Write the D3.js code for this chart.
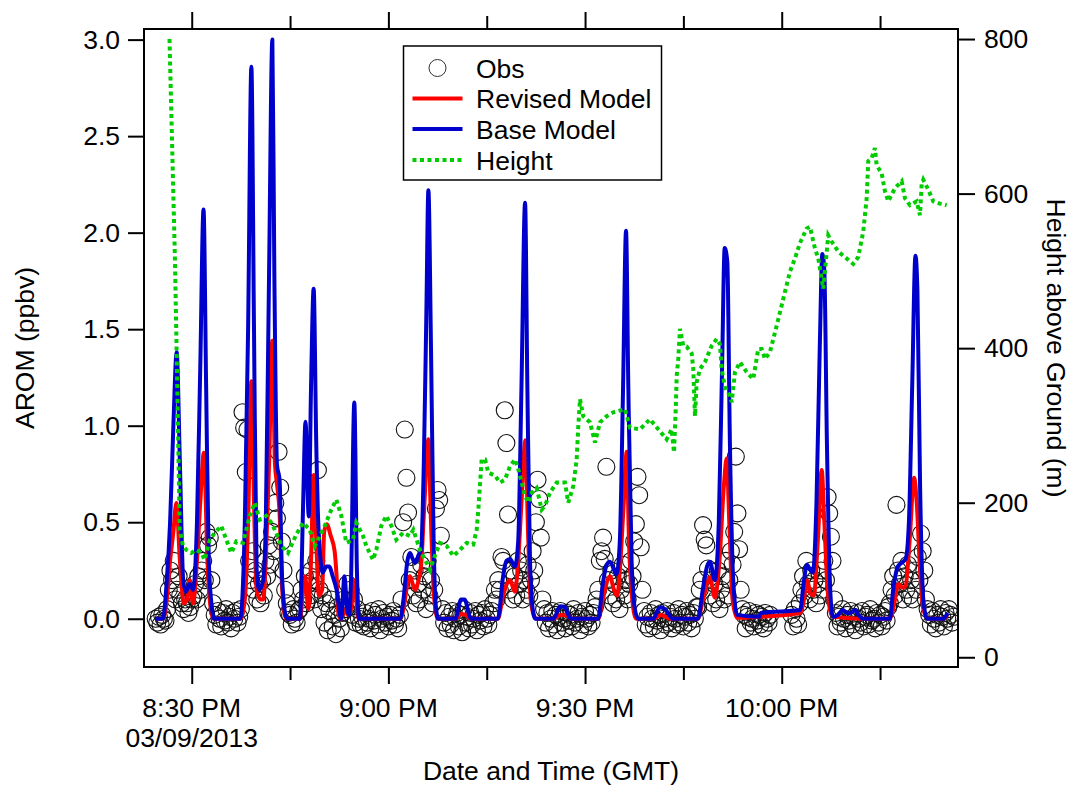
<!DOCTYPE html>
<html>
<head>
<meta charset="utf-8">
<script src="https://cdn.jsdelivr.net/npm/d3@7"></script>
<style>
  body { margin: 0; background: #fff; }
  svg text { font-family: "Liberation Sans", Arial, sans-serif; fill: #000; }
</style>
</head>
<body>
<svg id="chart" width="1071" height="788"></svg>
<script>
// time is in minutes after 8:00 PM, 03/09/2013
const aromTicks = [0, 0.5, 1.0, 1.5, 2.0, 2.5, 3.0];
const heightTicks = [0, 200, 400, 600, 800];
const majorTicks = [30, 60, 90, 120];
const minorTicks = [45, 75, 105, 135];
const majorLabels = ["8:30 PM", "9:00 PM", "9:30 PM", "10:00 PM"];
const legendLabels = ["Obs", "Revised Model", "Base Model", "Height"];

const baseModel = [
    [24.4,0],[25.6,0],[26.2,0.2],[26.7,0.5],[27.2,1.0],[27.7,1.38],[28.2,0.8],[28.7,0.2],[29.1,0.14],[29.7,0.18],[30.2,0.15],[30.8,0.5],[31.3,1.3],[31.8,2.12],[32.2,1.2],[32.6,0.3],[33.1,0.05],[33.4,0],
    [37.4,0],[38.1,0.5],[38.6,1.5],[39.1,2.86],[39.5,1.5],[39.9,0.25],[40.3,0.15],[40.9,0.2],[41.3,0.5],[41.8,1.8],[42.3,3.0],[42.6,1.8],[43.0,0.8],[43.4,0.72],[43.8,0.2],[44.5,0],
    [46.5,0],[47.0,0.6],[47.35,1.02],[47.85,0.53],[48.2,1.2],[48.6,1.71],[49.0,0.9],[49.3,0.5],[50.0,0.24],[50.5,0.27],[51.0,0.27],[51.5,0.22],[52.1,0.15],[52.8,0],[53.3,0.22],[53.7,0.05],[54.0,0.02],[54.3,0.2],[54.8,1.12],[55.2,0.25],[55.5,0],
    [61.8,0],[62.3,0.1],[62.9,0.3],[63.3,0.34],[63.7,0.31],[64.1,0.29],[64.6,0.33],[65.0,0.36],[65.4,0.8],[65.8,1.6],[66.1,2.22],[66.5,1.4],[66.9,0.4],[67.2,0.08],[67.6,0],
    [70.2,0],[71.1,0.1],[71.6,0.1],[72.6,0],
    [76.7,0],[77.5,0.22],[78.0,0.3],[78.55,0.31],[79.3,0.27],[79.8,0.4],[80.3,1.2],[80.85,2.155],[81.2,1.2],[81.6,0.3],[82.1,0.03],[82.4,0],
    [85.2,0],[86.2,0.065],[86.9,0.06],[87.8,0],
    [92.0,0],[92.7,0.18],[93.3,0.28],[93.8,0.295],[94.8,0.23],[95.3,0.4],[95.8,1.2],[96.25,2.01],[96.6,1.2],[97.1,0.3],[97.6,0.05],[98.1,0],
    [100.4,0],[101.4,0.06],[102.2,0.05],[103.4,0],
    [107.2,0],[108.0,0.16],[108.6,0.27],[109.05,0.295],[109.8,0.2],[110.4,0.5],[110.9,1.3],[111.3,1.92],[111.7,1.85],[112.1,0.9],[112.6,0.2],[113.2,0.02],[116.6,0.01],[116.8,0.03],[122.8,0.045],
    [123.4,0.2],[123.85,0.28],[124.4,0.25],[124.76,0.24],[125.3,0.6],[125.8,1.4],[126.2,1.89],[126.5,1.8],[126.9,0.9],[127.4,0.15],[127.8,0.01],[128.6,0.02],[129.3,0.045],[130.0,0.03],[130.4,0.03],[131.2,0.045],[131.7,0.02],[132.4,0],
    [136.5,0],[137.0,0.15],[137.7,0.27],[138.3,0.29],[138.9,0.31],[139.4,0.5],[139.9,1.2],[140.4,1.88],[140.7,1.7],[141.1,0.7],[141.6,0.1],[142.2,0],[144.6,0],[145.3,0.03]
];

const revisedModel = [
    [24.4,0],[25.6,0],[26.2,0.1],[26.7,0.3],[27.2,0.45],[27.65,0.6],[28.2,0.3],[28.8,0.08],[29.3,0.1],[29.7,0.2],[30.2,0.08],[30.8,0.3],[31.3,0.6],[31.85,0.86],[32.4,0.3],[33.0,0.03],[33.4,0],
    [37.4,0],[38.1,0.1],[38.6,0.5],[39.1,1.23],[39.5,0.6],[39.9,0.15],[40.5,0.1],[40.9,0.1],[41.3,0.3],[41.8,0.8],[42.3,1.44],[42.7,0.8],[43.0,0.7],[43.4,0.55],[43.8,0.15],[44.4,0],
    [46.5,0],[47.0,0.15],[47.3,0.22],[47.8,0.05],[48.2,0.3],[48.6,0.745],[49.0,0.4],[49.4,0.12],[49.9,0.15],[50.2,0.45],[50.6,0.49],[51.2,0.43],[51.8,0.35],[52.1,0.22],[52.4,0.02],[52.8,0],[53.4,0.05],[53.8,0.02],[54.3,0.05],[54.8,0.2],[55.3,0.02],[55.5,0],
    [61.8,0],[62.3,0.05],[62.9,0.18],[63.3,0.22],[63.7,0.18],[64.1,0.15],[64.6,0.2],[65.0,0.28],[65.5,0.6],[66.1,0.93],[66.5,0.5],[66.9,0.15],[67.4,0.01],[67.6,0],
    [70.2,0],[71.1,0.025],[71.8,0.02],[72.6,0],
    [76.7,0],[77.5,0.12],[78.55,0.2],[79.3,0.14],[79.8,0.3],[80.3,0.6],[80.9,0.925],[81.3,0.45],[81.7,0.1],[82.3,0.01],[82.6,0],
    [85.2,0],[86.3,0.02],[87.5,0.015],[87.8,0],
    [92.0,0],[92.7,0.1],[93.8,0.22],[94.4,0.15],[94.9,0.12],[95.4,0.3],[95.9,0.6],[96.35,0.865],[96.7,0.4],[97.2,0.1],[97.8,0],
    [100.4,0],[101.6,0.02],[103.0,0],
    [107.2,0],[108.0,0.1],[109.05,0.215],[109.8,0.11],[110.5,0.3],[111.2,0.7],[111.6,0.83],[112.0,0.5],[112.5,0.1],[113.2,0.005],[116.6,0.01],[122.8,0.03],
    [123.4,0.1],[123.85,0.2],[124.4,0.13],[124.9,0.12],[125.5,0.4],[126.1,0.77],[126.5,0.5],[127.0,0.15],[127.6,0.02],[128.0,0.01],[132.4,0],
    [136.5,0],[137.0,0.05],[137.8,0.18],[138.5,0.16],[138.9,0.17],[139.5,0.4],[140.2,0.73],[140.6,0.6],[141.1,0.25],[141.6,0.05],[142.3,0],[144.6,0],[145.3,0.02]
];

const heightAGL = [
    [26.61,800],[27.45,512],[27.83,334],[28.17,165],[28.67,144],[29.18,139],[29.94,135],[30.70,139],[31.46,135],[31.98,126],[32.75,152],[33.51,161],
    [34.51,170],[35.28,152],[36.04,135],[36.80,150],[37.82,148],[38.85,183],[39.61,200],[40.37,178],[41.38,183],[42.14,174],[42.90,161],[43.67,144],
    [44.69,135],[45.95,159],[46.98,174],[48.00,165],[48.76,144],[49.26,152],[50.29,170],[51.29,191],[52.06,204],[52.82,183],[53.58,148],[54.60,152],
    [55.11,174],[56.13,157],[56.63,144],[57.65,126],[58.16,139],[58.92,170],[59.68,183],[60.45,170],[61.21,152],[62.23,161],[63.25,157],[63.80,165],
    [64.82,139],[65.59,126],[66.35,113],[66.85,126],[67.87,148],[68.90,144],[69.90,131],[70.92,139],[71.95,148],[72.95,146],[73.47,165],[73.72,191],
    [74.23,256],[74.74,256],[75.24,239],[76.26,235],[77.03,226],[77.79,230],[78.55,247],[79.31,256],[79.82,243],[80.33,226],[80.84,209],[81.34,200],
    [81.86,213],[82.62,219],[83.39,191],[83.89,196],[84.65,213],[85.67,226],[86.94,226],[87.44,200],[88.21,222],[88.72,256],[88.97,299],[89.23,334],
    [89.73,312],[90.75,304],[91.52,278],[92.28,304],[93.30,312],[94.31,317],[96.09,321],[96.85,297],[98.38,295],[99.90,308],[101.17,295],[102.45,282],
    [103.21,295],[103.57,265],[103.83,321],[103.98,364],[104.22,386],[104.48,425],[104.98,403],[105.50,402],[106.27,393],[106.51,373],[106.77,312],
    [107.03,356],[107.53,373],[108.29,382],[109.32,403],[110.08,412],[110.58,405],[110.84,373],[111.34,349],[112.11,338],[112.37,330],[112.87,369],
    [113.63,382],[114.65,369],[115.66,360],[116.42,399],[116.94,399],[117.45,386],[118.21,395],[119.23,429],[120.24,464],[121.26,499],[122.02,516],
    [122.78,536],[123.81,555],[124.31,557],[125.07,529],[125.58,516],[126.34,477],[127.10,546],[127.62,538],[128.63,525],[129.91,516],[130.91,509],
    [131.68,518],[132.44,551],[132.96,594],[133.20,642],[133.72,646],[134.22,659],[134.48,637],[135.25,626],[135.75,603],[136.25,590],[137.27,607],
    [138.30,616],[138.80,594],[139.56,585],[140.58,590],[141.09,572],[141.35,612],[141.59,618],[142.35,605],[143.12,590],[144.14,587],[145.16,585]
];

// observations: each run = [start minute, values every 15 s]
const obsStep = 0.25;
const obsRuns = [
    [24.5, [0.0,-0.02,0.01,-0.03,0.02,0.0,-0.01,0.05]],
    [26.5, [0.15,0.25,0.2,0.3,0.1,0.15,0.22,0.12,0.08]],
    [28.75, [0.05,0.1,0.08,0.03,0.06,0.1]],
    [30.25, [0.12,0.18,0.1,0.22,0.15,0.25,0.3,0.2,0.45,0.38,0.42,0.2,0.08]],
    [33.5, [0.02,-0.03,0.04,0.0,-0.04,0.03,-0.01,0.05,-0.02,0.01,-0.05,0.03,0.0,0.04,-0.02,0.01]],
    [37.5, [0.05,1.07,0.99,0.76,0.98,0.3,0.2,0.35,0.15,0.25,0.1,0.18,0.08,0.2,0.12,0.3,0.22,0.38,0.28,0.45,0.35,0.6,0.52,0.865,0.68,0.4,0.25,0.15,0.08,0.03]],
    [45.0, [0.02,-0.03,0.05,0.0,-0.02,0.04]],
    [46.5, [0.05,0.15,0.1,0.22,0.08,0.18,0.12,0.25,0.2,0.1,0.3,0.77,0.15,0.05,0.12,-0.02,0.08,-0.06,0.04,0.1,-0.04,0.02,-0.08,0.06,0.0,-0.05]],
    [53.0, [0.03,0.1,0.05,0.18,0.08,0.15,0.02,0.1,-0.02,0.05,0.0,-0.03]],
    [56.0, [0.01,-0.04,0.03,-0.02,0.0,-0.05,0.04,-0.01,0.02,-0.03,0.05,-0.06,0.0,0.03,-0.02,0.01,-0.04,0.02,-0.01,0.04,-0.03,0.0,-0.05]],
    [61.75, [0.02,0.1,0.5,0.98,0.73,0.55,0.2,0.32,0.12,0.25,0.08,0.18,0.1,0.28,0.15,0.22,0.05,0.3,0.12,0.2,0.08,0.15,0.57,0.667,0.615,0.43]],
    [68.25, [0.05,-0.02,0.03,-0.05,0.01,-0.03,0.04,-0.06,0.0,0.03,-0.04,0.02,-0.07,0.05,-0.02,0.01,-0.05,0.03,-0.03,0.0,0.04,-0.06,0.02,-0.01,0.03,-0.04,0.05,0.0,-0.03,0.02,0.04,0.08,0.15,0.1]],
    [76.75, [0.2,0.15,0.32,0.3,1.08,0.91,0.54,0.15,0.25,0.1,0.22,0.12,0.3,0.18,0.25,0.1,0.2,0.15,0.28,0.12,0.2,0.35,0.25,0.5,0.72,0.62,0.42,0.1]],
    [83.75, [0.05,-0.02,0.03,-0.05,0.0,0.04,-0.03,0.02,-0.06,0.01,0.04,-0.02,0.0,-0.05,0.03,-0.01,0.02,-0.04,0.05,-0.02,0.0,0.03,-0.06,0.01,-0.03,0.04,0.0,-0.04,0.02,-0.02,0.03,0.06,0.1]],
    [92.0, [0.15,0.3,0.35,0.42,0.31,0.787,0.2,0.12,0.25,0.08,0.18,0.1,0.22,0.05,0.15,0.28,0.12,0.2,0.1,0.18,0.3,0.22,0.4,0.49,0.735,0.64,0.37,0.15]],
    [99.0, [0.04,-0.03,0.01,-0.05,0.03,0.0,-0.04,0.05,-0.01,0.02,-0.06,0.03,0.0,-0.03,0.04,-0.02,0.01,-0.05,0.03,0.0,-0.03,0.05,-0.02,0.02,-0.04,0.01,0.04,-0.02,0.02,-0.05,0.03,0.0,0.06]],
    [107.25, [0.06,0.15,0.2,0.485,0.41,0.38,0.26,0.12,0.2,0.08,0.18,0.1,0.25,0.05,0.15,0.22,0.1,0.3,0.12,0.2,0.35,0.28,0.45,0.84,0.546,0.36,0.15,0.05]],
    [114.25, [0.02,-0.05,0.01,0.04,-0.02,0.0,-0.04,0.03,-0.01,0.02,-0.03,0.01,-0.05,0.03,0.0,-0.02,0.02]],
    [121.5, [0.02,-0.04,0.05,0.0,-0.03,0.08,0.15,0.22,0.12,0.3,0.18,0.1,0.25,0.15,0.2,0.08,0.18,0.12,0.25,0.15,0.3,0.2,0.63,0.546,0.425,0.3,0.1]],
    [128.25, [0.03,-0.04,0.01,-0.02,0.05,0.0,-0.05,0.02,-0.01,0.04,-0.03,0.01,-0.06,0.03,0.0,-0.02,0.04,-0.04,0.01,0.02,-0.03,0.05,-0.01,0.0,-0.05,0.03,-0.02,0.02,-0.04,0.01,0.04,-0.01,0.06]],
    [136.5, [0.08,0.15,0.22,0.12,0.59,0.25,0.18,0.3,0.1,0.22,0.15,0.28,0.12,0.2,0.1,0.25,0.15,0.32,0.2,0.44,0.35,0.25,0.1,0.05,0.02]],
    [142.75, [-0.03,0.04,0.0,-0.05,0.02,-0.02,0.05,0.01,-0.04,0.03,0.0,0.05,0.02,-0.02,0.01]]
];

const obs = obsRuns.flatMap(([start, vals]) => vals.map((v, i) => [start + i * obsStep, v]));

const svg = d3.select("#chart");
const plot = { left: 144, right: 958, top: 29, bottom: 667 };
const fontSize = 26.5;

const t0 = new Date(2013, 2, 9, 20, 0, 0);
const toDate = (m) => new Date(t0.getTime() + m * 60000);

const x = d3.scaleTime().domain([toDate(22.72), toDate(146.89)]).range([plot.left, plot.right]);
const yL = d3.scaleLinear().domain([-0.25, 3.055]).range([plot.bottom, plot.top]);
const yR = d3.scaleLinear().domain([-12.6, 813]).range([plot.bottom, plot.top]);

svg.append("defs").append("clipPath").attr("id", "clip")
    .append("rect")
    .attr("x", plot.left).attr("y", plot.top)
    .attr("width", plot.right - plot.left).attr("height", plot.bottom - plot.top);

const g = svg.append("g").attr("clip-path", "url(#clip)");

// obs circles
g.append("g")
    .selectAll("circle")
    .data(obs)
    .enter()
    .append("circle")
    .attr("cx", (d) => x(toDate(d[0])))
    .attr("cy", (d) => yL(d[1]))
    .attr("r", 8.5)
    .style("fill", "none")
    .style("stroke", "#111")
    .style("stroke-width", 1.1);

const lineL = d3.line()
    .x((d) => x(toDate(d[0])))
    .y((d) => yL(d[1]))
    .curve(d3.curveMonotoneX);

g.append("path").datum(revisedModel)
    .attr("d", lineL)
    .style("fill", "none").style("stroke", "#ff0000").style("stroke-width", 4)
    .style("stroke-linejoin", "round");

g.append("path").datum(baseModel)
    .attr("d", lineL)
    .style("fill", "none").style("stroke", "#0000cc").style("stroke-width", 4)
    .style("stroke-linejoin", "round");

const lineR = d3.line()
    .x((d) => x(toDate(d[0])))
    .y((d) => yR(d[1]));

g.append("path").datum(heightAGL)
    .attr("d", lineR)
    .style("fill", "none").style("stroke", "#00cc00").style("stroke-width", 4)
    .style("stroke-dasharray", "4,3.5");

// frame
svg.append("rect")
    .attr("x", plot.left).attr("y", plot.top)
    .attr("width", plot.right - plot.left).attr("height", plot.bottom - plot.top)
    .style("fill", "none").style("stroke", "#000").style("stroke-width", 2);

function styleAxis(sel) {
    sel.select(".domain").remove();
    sel.selectAll("line").style("stroke", "#000").style("stroke-width", 2);
    sel.selectAll("text").style("font-size", fontSize + "px").style("font-family", '"Liberation Sans", Arial, sans-serif');
}

svg.append("g").attr("transform", `translate(${plot.left},0)`)
    .call(d3.axisLeft(yL).tickValues(aromTicks).tickSize(16).tickPadding(8).tickFormat(d3.format(".1f")))
    .call(styleAxis);

svg.append("g").attr("transform", `translate(${plot.right},0)`)
    .call(d3.axisRight(yR).tickValues(heightTicks).tickSize(17).tickPadding(9))
    .call(styleAxis);

const majorDates = majorTicks.map(toDate);
const minorDates = minorTicks.map(toDate);

svg.append("g").attr("transform", `translate(0,${plot.bottom})`)
    .call(d3.axisBottom(x).tickValues(majorDates).tickSize(17).tickFormat(""))
    .call(styleAxis);
svg.append("g").attr("transform", `translate(0,${plot.bottom})`)
    .call(d3.axisBottom(x).tickValues(minorDates).tickSize(13).tickFormat(""))
    .call(styleAxis);
svg.append("g").attr("transform", `translate(0,${plot.top})`)
    .call(d3.axisTop(x).tickValues(majorDates).tickSize(17).tickFormat(""))
    .call(styleAxis);
svg.append("g").attr("transform", `translate(0,${plot.top})`)
    .call(d3.axisTop(x).tickValues(minorDates).tickSize(13).tickFormat(""))
    .call(styleAxis);

// time labels
svg.append("g")
    .selectAll("text")
    .data(majorDates)
    .enter()
    .append("text")
    .attr("x", (d) => x(d))
    .attr("y", 717)
    .attr("text-anchor", "middle")
    .style("font-size", fontSize + "px")
    .text((d, i) => majorLabels[i]);

svg.append("text")
    .attr("x", x(majorDates[0]))
    .attr("y", 747)
    .attr("text-anchor", "middle")
    .style("font-size", fontSize + "px")
    .text("03/09/2013");

// axis titles
svg.append("text")
    .attr("x", (plot.left + plot.right) / 2)
    .attr("y", 780)
    .attr("text-anchor", "middle")
    .style("font-size", fontSize + "px")
    .text("Date and Time (GMT)");

svg.append("text")
    .attr("transform", `translate(34,${(plot.top + plot.bottom) / 2}) rotate(-90)`)
    .attr("text-anchor", "middle")
    .style("font-size", fontSize + "px")
    .text("AROM (ppbv)");

svg.append("text")
    .attr("transform", `translate(1047,${(plot.top + plot.bottom) / 2}) rotate(90)`)
    .attr("text-anchor", "middle")
    .style("font-size", fontSize + "px")
    .text("Height above Ground (m)");

// legend
const legend = svg.append("g").attr("transform", "translate(403.5,46)");
legend.append("rect")
    .attr("width", 258).attr("height", 134)
    .style("fill", "#fff").style("stroke", "#000").style("stroke-width", 1.5);

const rowY = [22, 52.5, 83, 114];
legend.append("circle")
    .attr("cx", 34).attr("cy", rowY[0])
    .attr("r", 8.5)
    .style("fill", "none").style("stroke", "#333").style("stroke-width", 1);
const legendLines = [
    { color: "#ff0000", dash: null, row: 1 },
    { color: "#0000cc", dash: null, row: 2 },
    { color: "#00cc00", dash: "4,3.5", row: 3 }
];
legend.selectAll("line.key")
    .data(legendLines)
    .enter()
    .append("line")
    .attr("class", "key")
    .attr("x1", 9).attr("x2", 59)
    .attr("y1", (d) => rowY[d.row]).attr("y2", (d) => rowY[d.row])
    .style("stroke", (d) => d.color)
    .style("stroke-width", 4)
    .style("stroke-dasharray", (d) => d.dash);

legend.selectAll("text")
    .data(legendLabels)
    .enter()
    .append("text")
    .attr("x", 72.5)
    .attr("y", (d, i) => rowY[i] + 9.5)
    .style("font-size", fontSize + "px")
    .text((d) => d);
</script>
</body>
</html>
